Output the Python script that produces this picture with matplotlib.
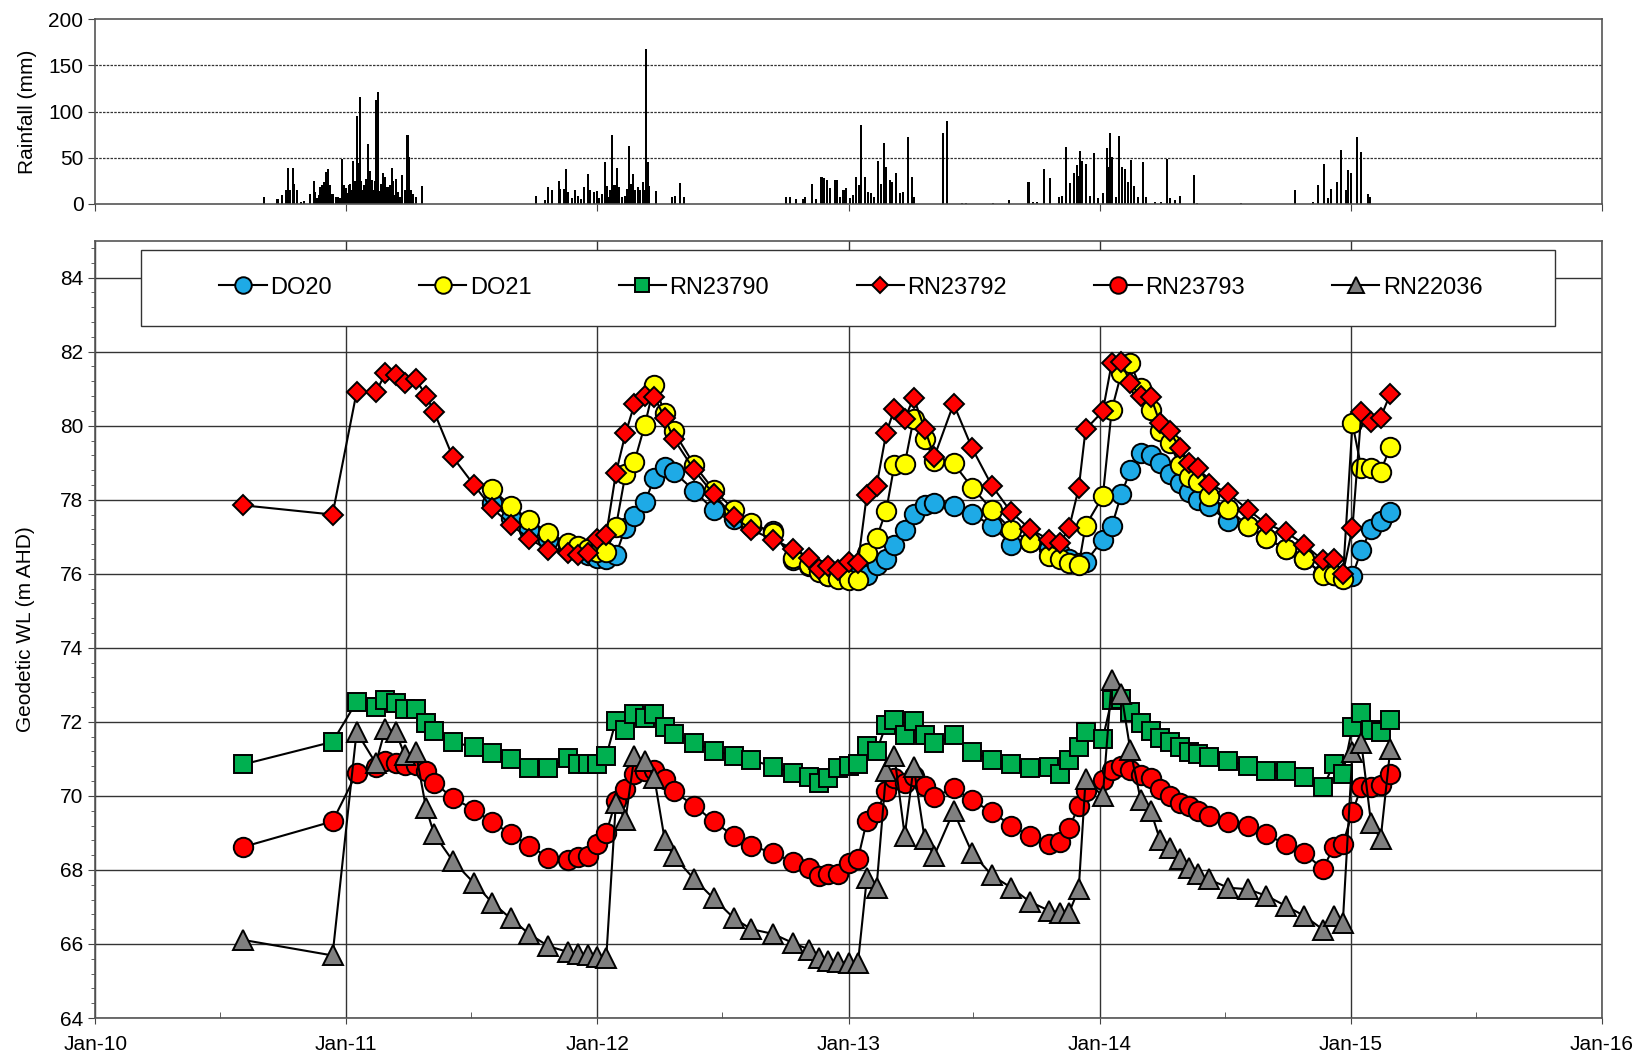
import numpy as np
import pandas as pd
import matplotlib
matplotlib.use("Agg")
import matplotlib.pyplot as plt
import matplotlib.dates as mdates
from matplotlib import font_manager
from matplotlib.patches import Rectangle
from matplotlib.ticker import MultipleLocator

# fonts - narrow one for dates/legend if we have it
names = {f.name for f in font_manager.fontManager.ttflist}
NARROW = "Liberation Sans Narrow" if "Liberation Sans Narrow" in names else "Liberation Sans"
plt.rcParams["font.family"] = ["Liberation Sans", "DejaVu Sans"]

# monitoring dates (shared by all bores)
dates = ["2010-08-04", "2010-12-12", "2011-01-16", "2011-02-13", "2011-02-27", "2011-03-14",
         "2011-03-27", "2011-04-12", "2011-04-27", "2011-05-09", "2011-06-05", "2011-07-06",
         "2011-08-01", "2011-08-28", "2011-09-24", "2011-10-22", "2011-11-20", "2011-12-04",
         "2011-12-18", "2012-01-01", "2012-01-14", "2012-01-28", "2012-02-11", "2012-02-24",
         "2012-03-10", "2012-03-24", "2012-04-08", "2012-04-21", "2012-05-21", "2012-06-18",
         "2012-07-18", "2012-08-12", "2012-09-13", "2012-10-11", "2012-11-04", "2012-11-18",
         "2012-12-02", "2012-12-16", "2013-01-01", "2013-01-14", "2013-01-27", "2013-02-10",
         "2013-02-24", "2013-03-08", "2013-03-23", "2013-04-05", "2013-04-21", "2013-05-05",
         "2013-06-02", "2013-06-29", "2013-07-28", "2013-08-25", "2013-09-21", "2013-10-19",
         "2013-11-04", "2013-11-17", "2013-12-01", "2013-12-11", "2014-01-05", "2014-01-18",
         "2014-02-01", "2014-02-14", "2014-03-01", "2014-03-16", "2014-03-29", "2014-04-12",
         "2014-04-27", "2014-05-11", "2014-05-24", "2014-06-08", "2014-07-06", "2014-08-04",
         "2014-08-31", "2014-09-28", "2014-10-25", "2014-11-21", "2014-12-07", "2014-12-20",
         "2015-01-03", "2015-01-16", "2015-01-30", "2015-02-13", "2015-02-27"]

N = None
do20 = [N]*12 + [77.90, 77.50, 77.19, 76.92, 76.70, 76.61, 76.52, 76.43,
        76.39, 76.52, 77.24, 77.55, 77.93, 78.58, 78.89, 78.76, 78.24, 77.73,
        77.48, 77.30, 77.15, 76.36, 76.20, 76.10, 75.95, 75.90, 75.90, 76.05,
        75.98, 76.25, 76.39, 76.79, 77.19, 77.61, 77.85, 77.91, 77.82, 77.61,
        77.30, 76.79, 76.85, 76.66, 76.55, 76.40, 76.30, 76.32, 76.92, 77.28,
        78.15, 78.79, 79.25, 79.20, 78.98, 78.69, 78.46, 78.22, 78.00, 77.82,
        77.43, 77.28, 76.97, 76.66, 76.39, 76.00, 75.98, 75.92, 75.95, 76.64,
        77.21, 77.42, 77.66]
do21 = [N]*12 + [78.28, 77.84, 77.46, 77.10, 76.83, 76.74, 76.66, 76.60,
        76.58, 77.26, 78.70, 79.03, 80.01, 81.11, 80.34, 79.85, 78.94, 78.27,
        77.73, 77.37, 77.10, 76.43, 76.25, 76.05, 75.94, 75.85, 75.83, 75.83,
        76.57, 76.97, 77.70, 78.94, 78.96, 80.19, 79.65, 79.05, 78.98, 78.33,
        77.73, 77.19, 76.86, 76.49, 76.39, 76.30, 76.23, 77.30, 78.09, 80.43,
        81.42, 81.69, 81.02, 80.43, 79.87, 79.52, 78.94, 78.62, 78.49, 78.09,
        77.75, 77.30, 76.97, 76.66, 76.39, 75.98, 75.98, 75.87, 80.06, 78.85,
        78.85, 78.76, 79.43]
rn23790 = [70.85, 71.46, 72.54, 72.40, 72.58, 72.51, 72.36, 72.36, 71.96, 71.76,
           71.46, 71.31, 71.15, 70.99, 70.76, 70.76, 71.02, 70.85, 70.85, 70.85,
           71.08, 72.02, 71.78, 72.20, 72.11, 72.20, 71.87, 71.67, 71.44, 71.22,
           71.09, 70.97, 70.79, 70.63, 70.52, 70.34, 70.48, 70.75, 70.81, 70.85,
           71.35, 71.22, 71.91, 72.04, 71.64, 72.02, 71.64, 71.42, 71.64, 71.19,
           70.97, 70.85, 70.75, 70.79, 70.59, 70.97, 71.31, 71.73, 71.55, 72.60,
           72.63, 72.27, 71.96, 71.76, 71.57, 71.46, 71.31, 71.19, 71.12, 71.06,
           70.95, 70.81, 70.68, 70.66, 70.52, 70.23, 70.86, 70.59, 71.87, 72.24,
           71.78, 71.73, 72.04]
rn23792 = [77.85, 77.60, 80.90, 80.90, 81.42, 81.37, 81.15, 81.26, 80.81, 80.36,
           79.15, 78.39, 77.77, 77.33, 76.95, 76.64, 76.55, 76.50, 76.55, 76.95,
           77.06, 78.71, 79.79, 80.58, 80.79, 80.77, 80.22, 79.65, 78.80, 78.15,
           77.53, 77.19, 76.92, 76.68, 76.42, 76.14, 76.21, 76.11, 76.32, 76.29,
           78.14, 78.37, 79.79, 80.46, 80.19, 80.75, 79.92, 79.16, 80.59, 79.39,
           78.37, 77.66, 77.21, 76.92, 76.83, 77.24, 78.31, 79.90, 80.39, 81.69,
           81.73, 81.15, 80.79, 80.77, 80.08, 79.86, 79.39, 79.00, 78.87, 78.43,
           78.18, 77.73, 77.35, 77.13, 76.79, 76.36, 76.40, 76.00, 77.24, 80.37,
           80.10, 80.22, 80.86]
rn23793 = [68.62, 69.31, 70.61, 70.77, 70.93, 70.88, 70.84, 70.84, 70.66, 70.36,
           69.94, 69.63, 69.29, 68.98, 68.66, 68.33, 68.28, 68.35, 68.37, 68.71,
           69.00, 69.87, 70.18, 70.59, 70.66, 70.70, 70.45, 70.12, 69.74, 69.31,
           68.91, 68.66, 68.45, 68.22, 68.04, 67.84, 67.90, 67.88, 68.18, 68.30,
           69.33, 69.56, 70.14, 70.48, 70.34, 70.54, 70.27, 69.97, 70.21, 69.88,
           69.56, 69.20, 68.91, 68.69, 68.75, 69.13, 69.72, 70.14, 70.43, 70.70,
           70.81, 70.70, 70.57, 70.48, 70.18, 69.99, 69.81, 69.72, 69.58, 69.47,
           69.29, 69.18, 68.96, 68.69, 68.45, 68.03, 68.62, 68.69, 69.56, 70.25,
           70.25, 70.30, 70.59]
rn22036 = [66.11, 65.69, 71.73, 70.88, 71.82, 71.73, 71.10, 71.19, 69.67, 68.96,
           68.24, 67.64, 67.12, 66.69, 66.27, 65.94, 65.78, 65.73, 65.71, 65.66,
           65.62, 69.81, 69.36, 71.08, 70.93, 70.48, 68.82, 68.37, 67.75, 67.23,
           66.69, 66.40, 66.27, 66.03, 65.85, 65.62, 65.55, 65.51, 65.49, 65.49,
           67.79, 67.52, 70.66, 71.08, 68.93, 70.79, 68.84, 68.39, 69.58, 68.46,
           67.85, 67.52, 67.14, 66.90, 66.85, 66.85, 67.48, 70.45, 69.99, 73.12,
           72.76, 71.24, 69.90, 69.58, 68.82, 68.60, 68.30, 68.06, 67.88, 67.75,
           67.52, 67.48, 67.30, 67.03, 66.76, 66.39, 66.76, 66.58, 71.19, 71.42,
           69.27, 68.84, 71.26]

# daily rainfall (only rain days)
rain_dates = [
    "2010-09-04", "2010-09-23", "2010-09-29", "2010-10-06", "2010-10-08", "2010-10-11",
    "2010-10-15", "2010-10-17", "2010-10-21", "2010-10-27", "2010-11-01", "2010-11-09",
    "2010-11-15", "2010-11-17", "2010-11-20", "2010-11-22", "2010-11-24", "2010-11-27",
    "2010-11-30", "2010-12-03", "2010-12-06", "2010-12-09", "2010-12-12", "2010-12-17",
    "2010-12-20", "2010-12-23", "2010-12-26", "2010-12-29", "2011-01-01", "2011-01-03",
    "2011-01-05", "2011-01-07", "2011-01-09", "2011-01-11", "2011-01-12", "2011-01-14",
    "2011-01-16", "2011-01-18", "2011-01-19", "2011-01-21", "2011-01-23", "2011-01-25",
    "2011-01-27", "2011-01-30", "2011-02-01", "2011-02-02", "2011-02-04", "2011-02-06",
    "2011-02-08", "2011-02-10", "2011-02-12", "2011-02-14", "2011-02-15", "2011-02-16",
    "2011-02-18", "2011-02-20", "2011-02-22", "2011-02-24", "2011-02-27", "2011-03-02",
    "2011-03-05", "2011-03-08", "2011-03-10", "2011-03-12", "2011-03-14", "2011-03-17",
    "2011-03-20", "2011-03-23", "2011-03-27", "2011-03-31", "2011-04-02", "2011-04-05",
    "2011-04-08", "2011-04-13", "2011-04-21",
    "2011-10-04", "2011-10-17", "2011-10-22", "2011-10-27", "2011-11-06", "2011-11-08",
    "2011-11-13", "2011-11-17", "2011-11-20", "2011-11-25", "2011-11-30", "2011-12-04",
    "2011-12-08", "2011-12-12", "2011-12-18", "2011-12-20", "2011-12-22", "2011-12-27",
    "2011-12-31", "2012-01-04", "2012-01-08", "2012-01-12", "2012-01-15", "2012-01-18",
    "2012-01-20", "2012-01-23", "2012-01-26", "2012-01-30", "2012-02-01", "2012-02-06",
    "2012-02-10", "2012-02-13", "2012-02-16", "2012-02-19", "2012-02-22", "2012-02-25",
    "2012-02-29", "2012-03-03", "2012-03-07", "2012-03-10", "2012-03-12", "2012-03-14",
    "2012-03-16", "2012-03-26", "2012-04-19", "2012-04-23", "2012-04-30", "2012-05-06",
    "2012-10-01", "2012-10-07", "2012-10-16", "2012-10-26", "2012-10-29", "2012-11-08",
    "2012-11-14", "2012-11-22", "2012-11-26", "2012-11-30", "2012-12-05", "2012-12-11",
    "2012-12-15", "2012-12-19", "2012-12-24", "2012-12-28", "2013-01-03", "2013-01-07",
    "2013-01-11", "2013-01-15", "2013-01-19", "2013-01-24", "2013-01-28", "2013-02-02",
    "2013-02-07", "2013-02-12", "2013-02-16", "2013-02-21", "2013-02-24", "2013-03-01",
    "2013-03-05", "2013-03-11", "2013-03-16", "2013-03-20", "2013-03-28", "2013-04-02",
    "2013-04-05", "2013-05-18", "2013-05-23", "2013-06-14", "2013-06-20", "2013-07-30",
    "2013-08-21",
    "2013-09-19", "2013-09-25", "2013-10-02", "2013-10-12", "2013-10-20", "2013-11-02",
    "2013-11-07", "2013-11-13", "2013-11-19", "2013-11-24", "2013-11-28", "2013-12-01",
    "2013-12-03", "2013-12-06", "2013-12-11", "2013-12-17", "2013-12-23", "2013-12-29",
    "2014-01-05", "2014-01-11", "2014-01-13", "2014-01-15", "2014-01-19", "2014-01-24",
    "2014-01-29", "2014-02-02", "2014-02-06", "2014-02-10", "2014-02-15", "2014-02-19",
    "2014-02-25", "2014-03-04", "2014-03-09", "2014-03-22", "2014-03-30", "2014-04-08",
    "2014-04-13", "2014-04-20", "2014-04-27", "2014-05-17", "2014-05-22", "2014-07-25",
    "2014-10-12", "2014-11-06", "2014-11-14", "2014-11-23", "2014-11-29", "2014-12-03",
    "2014-12-12", "2014-12-18", "2014-12-24", "2014-12-28", "2015-01-01", "2015-01-09",
    "2015-01-15", "2015-01-25", "2015-01-29"]
rain_mm = [
    7, 5, 10, 15, 39, 15, 39, 22, 15, 2, 3, 11,
    25, 13, 6, 10, 18, 20, 24, 35, 38, 20, 11, 8,
    8, 6, 49, 20, 17, 12, 20, 22, 15, 47, 18, 25,
    95, 44, 20, 116, 25, 15, 20, 27, 18, 65, 36, 12,
    26, 15, 25, 112, 108, 121, 14, 22, 12, 33, 29, 18,
    20, 39, 25, 10, 27, 13, 8, 31, 15, 75, 51, 15,
    11, 7, 19,
    9, 4, 18, 15, 25, 16, 16, 38, 13, 6, 15, 9,
    5, 18, 32, 8, 15, 13, 14, 6, 11, 45, 19, 8,
    15, 75, 20, 39, 18, 7, 9, 16, 63, 22, 32, 15,
    18, 15, 24, 15, 168, 45, 19, 14, 8, 9, 23, 7,
    7, 7, 5, 5, 7, 22, 5, 29, 28, 26, 17, 26,
    26, 8, 15, 17, 6, 10, 29, 20, 85, 29, 13, 12,
    8, 46, 22, 66, 40, 26, 24, 34, 12, 13, 72, 29,
    8, 77, 90, 1, 1, 1.5, 4,
    24, 2, 2, 38, 28, 8, 9, 62, 23, 33, 42, 30,
    57, 46, 43, 9, 55, 6, 12, 60, 40, 77, 51, 8,
    74, 40, 38, 24, 48, 19, 8, 45, 8, 2, 2, 49,
    6, 4, 9, 31, 1, 1,
    15, 2, 20, 43, 6, 16, 24, 58, 15, 37, 33, 72,
    56, 11, 8]

series = [
    ("DO20", do20, "o", "#1EAAE6", 14),
    ("DO21", do21, "o", "#FFFF00", 14),
    ("RN23790", rn23790, "s", "#00B050", 12.5),
    ("RN23792", rn23792, "D", "#FF0000", 10),
    ("RN23793", rn23793, "o", "#FF0000", 14),
    ("RN22036", rn22036, "^", "#808080", 14),
]

t = pd.to_datetime(dates)
rt = pd.to_datetime(rain_dates)

fig = plt.figure(figsize=(16.42, 10.59), dpi=100)
ax_r = fig.add_axes([0.058, 0.8074, 0.9177, 0.1746])
ax = fig.add_axes([0.058, 0.0387, 0.9177, 0.7341])

xmin, xmax = pd.Timestamp("2010-01-01"), pd.Timestamp("2016-01-01")

# rainfall panel
ax_r.bar(rt, rain_mm, width=3.0, color="black", linewidth=0)
ax_r.set_xlim(xmin, xmax)
ax_r.set_ylim(0, 200)
ax_r.set_yticks([0, 50, 100, 150, 200])
for yv in [50, 100, 150]:
    ax_r.axhline(yv, color="#333333", lw=0.9, ls=(0, (2, 1)), zorder=0)
ax_r.xaxis.set_major_locator(mdates.YearLocator())
ax_r.tick_params(axis="x", labelbottom=False, direction="out", length=5, color="#444444")
ax_r.tick_params(axis="y", labelsize=15, direction="out", length=5, color="#444444")
ax_r.set_ylabel("Rainfall (mm)", fontsize=15, labelpad=8)
for s in ax_r.spines.values():
    s.set_color("#555555")
    s.set_linewidth(1.2)

# water levels
for name, vals, mk, col, ms in series:
    v = np.array([np.nan if x is None else x for x in vals], dtype=float)
    ok = ~np.isnan(v)
    ax.plot(t[ok], v[ok], color="black", lw=1.5, marker=mk, markersize=ms,
            markerfacecolor=col, markeredgecolor="black", markeredgewidth=1.4,
            label=name, zorder=3)

ax.set_xlim(xmin, xmax)
ax.set_ylim(64, 85)
ax.set_yticks(np.arange(64, 85, 2))
ax.yaxis.set_minor_locator(MultipleLocator(0.4))
ax.xaxis.set_major_locator(mdates.YearLocator())
ax.xaxis.set_minor_locator(mdates.MonthLocator(bymonth=7))
ax.xaxis.set_major_formatter(mdates.DateFormatter("%b-%y"))
ax.grid(True, which="major", color="#333333", lw=1.0, zorder=0)
ax.tick_params(axis="y", which="major", labelsize=15, direction="out", length=5, color="#444444")
ax.tick_params(axis="y", which="minor", direction="out", length=3, color="#444444")
ax.tick_params(axis="x", which="major", labelsize=15, direction="out", length=4, pad=8, color="#444444")
ax.tick_params(axis="x", which="minor", direction="in", length=4, color="#444444")
for lab in ax.get_xticklabels():
    lab.set_fontfamily(NARROW)
ax.set_ylabel("Geodetic WL (m AHD)", fontsize=15, family=NARROW, labelpad=18)
for s in ax.spines.values():
    s.set_color("#555555")
    s.set_linewidth(1.2)

# legend: white box drawn separately, entries centred inside it
box = Rectangle((0.0306, 0.890), 0.938, 0.0985, transform=ax.transAxes,
                facecolor="white", edgecolor="#333333", lw=1.0, zorder=4)
ax.add_patch(box)
leg = ax.legend(loc="center", bbox_to_anchor=(0.5015, 0.9395), ncol=6, frameon=False,
                markerscale=0.85, handlelength=2.0, handletextpad=0.15, columnspacing=3.7,
                prop={"family": NARROW, "size": 17})
leg.set_zorder(5)

fig.savefig("out.png", dpi=100)
